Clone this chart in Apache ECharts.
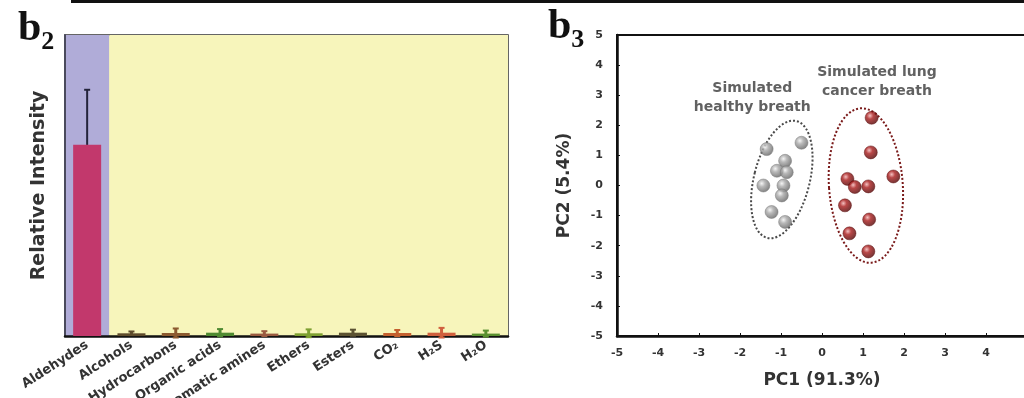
<!DOCTYPE html>
<html>
<head>
<meta charset="utf-8">
<script src="https://cdn.jsdelivr.net/npm/echarts@6/dist/echarts.min.js"></script>
<style>
  html, body { margin: 0; padding: 0; background: #fff; }
  #chart { width: 1024px; height: 398px; }
</style>
</head>
<body>
<div id="chart"></div>
<script>
// b2: relative intensity per compound class
const categories = ['Aldehydes', 'Alcohols', 'Hydrocarbons', 'Organic acids', 'Aromatic amines',
  'Ethers', 'Esters', 'CO\u2082', 'H\u2082S', 'H\u2082O']
const intensity = [63.5, 0.9, 1.0, 1.1, 0.8, 0.9, 1.1, 1.0, 1.1, 0.8]
const intensityErr = [18.3, 0.6, 1.5, 1.2, 0.8, 1.3, 1.0, 1.0, 1.6, 1.0]
const barColors = ['#c2386c', '#5e4b2c', '#8c5a30', '#4f8a32', '#9a5a40',
  '#7ea032', '#5c5232', '#c4602f', '#d0603e', '#5a9030']

// b3: PCA scores
const healthy = [
  [-1.35, 1.21], [-0.50, 1.42], [-0.90, 0.82], [-1.10, 0.49], [-0.86, 0.44],
  [-1.43, 0.00], [-0.94, 0.00], [-0.98, -0.33], [-1.23, -0.88], [-0.90, -1.21]
]
const cancer = [
  [1.21, 2.25], [1.19, 1.10], [0.62, 0.22], [0.80, -0.05], [1.13, -0.03],
  [1.74, 0.30], [0.56, -0.66], [1.15, -1.13], [0.67, -1.59], [1.13, -2.19]
]
// confidence ellipses: [cx, cy, rx, ry, tilt deg]
const healthyEllipse = [-0.98, 0.2, 0.68, 2.0, -14]
const cancerEllipse = [1.07, 0.0, 0.9, 2.57, 4]
const pcTicks = [-5, 5, 1]

const myChart = echarts.init(document.getElementById('chart'))
const font = 'DejaVu Sans'

function ellipseItem(color) {
  return function (params, api) {
    const c = api.coord([api.value(0), api.value(1)])
    const s = api.size([api.value(2), api.value(3)])
    return {
      type: 'ellipse',
      x: c[0],
      y: c[1],
      rotation: api.value(4) * Math.PI / 180,
      shape: { cx: 0, cy: 0, rx: s[0], ry: s[1] },
      style: { fill: 'none', stroke: color, lineWidth: 2, lineDash: [2, 2] }
    }
  }
}

function sphere(light, mid, dark) {
  return {
    type: 'radial', x: 0.38, y: 0.35, r: 0.7,
    colorStops: [{ offset: 0, color: light }, { offset: 0.35, color: mid }, { offset: 1, color: dark }]
  }
}

const panelLabel = {
  b: { fontFamily: 'Liberation Serif', fontWeight: 'bold', fontSize: 42, fill: '#111' },
  s: { fontFamily: 'Liberation Serif', fontWeight: 'bold', fontSize: 26, fill: '#111', padding: [26, 0, 0, 0] }
}

const option = {
  backgroundColor: '#fff',
  animation: false,
  graphic: [
    { type: 'rect', left: 71, top: 0, shape: { width: 960, height: 3 }, style: { fill: '#111' } },
    { type: 'text', left: 18, top: 8, style: { text: '{b|b}{s|2}', rich: panelLabel } },
    { type: 'text', left: 548, top: 6, style: { text: '{b|b}{s|3}', rich: panelLabel } }
  ],
  grid: [
    { left: 65, top: 35, width: 443, height: 301, outerBoundsMode: 'none', show: true, backgroundColor: '#f7f5bb', borderColor: '#333', borderWidth: 1.5 },
    { left: 617, top: 35, width: 410, height: 301, outerBoundsMode: 'none', show: true, backgroundColor: '#fff', borderColor: '#111', borderWidth: 2 }
  ],
  xAxis: [{
    gridIndex: 0,
    type: 'category',
    data: categories,
    axisLine: { lineStyle: { color: '#111', width: 2.5 } },
    axisTick: { show: false },
    splitArea: {
      show: true,
      areaStyle: { color: ['#b0acd8', '#f7f5bb', '#f7f5bb', '#f7f5bb', '#f7f5bb', '#f7f5bb', '#f7f5bb', '#f7f5bb', '#f7f5bb', '#f7f5bb'] }
    },
    axisLabel: { interval: 0, rotate: 33, fontFamily: font, fontWeight: 'bold', fontSize: 13, color: '#333', margin: 8 }
  }, {
    gridIndex: 1,
    type: 'value',
    min: pcTicks[0], max: pcTicks[1], interval: pcTicks[2],
    name: 'PC1 (91.3%)',
    nameLocation: 'middle',
    nameGap: 36,
    nameTextStyle: { fontFamily: font, fontWeight: 'bold', fontSize: 17, color: '#333' },
    axisLine: { onZero: false, lineStyle: { color: '#111', width: 2.5 } },
    axisTick: { inside: true, length: 3, lineStyle: { color: '#111' } },
    splitLine: { show: false },
    axisLabel: { fontFamily: font, fontWeight: 'bold', fontSize: 11, color: '#333', margin: 12 }
  }],
  yAxis: [{
    gridIndex: 0,
    type: 'value',
    min: 0, max: 100,
    name: 'Relative Intensity',
    nameLocation: 'middle',
    nameGap: 16,
    nameTextStyle: { fontFamily: font, fontWeight: 'bold', fontSize: 19, color: '#333' },
    axisLine: { show: true, lineStyle: { color: '#4a4a5c', width: 2 } },
    axisTick: { show: false },
    axisLabel: { show: false },
    splitLine: { show: false }
  }, {
    gridIndex: 1,
    type: 'value',
    min: pcTicks[0], max: pcTicks[1], interval: pcTicks[2],
    name: 'PC2 (5.4%)',
    nameLocation: 'middle',
    nameGap: 44,
    nameTextStyle: { fontFamily: font, fontWeight: 'bold', fontSize: 17, color: '#333' },
    axisLine: { onZero: false, lineStyle: { color: '#111', width: 2.5 } },
    axisTick: { inside: true, length: 3, lineStyle: { color: '#111' } },
    splitLine: { show: false },
    axisLabel: { fontFamily: font, fontWeight: 'bold', fontSize: 11, color: '#333', margin: 14 }
  }],
  series: [{
    name: 'intensity',
    type: 'bar',
    xAxisIndex: 0, yAxisIndex: 0,
    barWidth: 28,
    data: intensity.map((v, i) => ({ value: v, itemStyle: { color: barColors[i] } }))
  }, {
    name: 'error',
    type: 'custom',
    xAxisIndex: 0, yAxisIndex: 0,
    data: intensity.map((v, i) => [i, v - intensityErr[i], v + intensityErr[i]]),
    renderItem: function (params, api) {
      const lo = api.coord([api.value(0), api.value(1)])
      const hi = api.coord([api.value(0), api.value(2)])
      const i = params.dataIndex
      const col = i === 0 ? '#23233a' : barColors[i]
      return {
        type: 'group',
        children: [
          { type: 'line', shape: { x1: lo[0], y1: lo[1], x2: hi[0], y2: hi[1] }, style: { stroke: col, lineWidth: i === 0 ? 2 : 3 } },
          { type: 'line', shape: { x1: hi[0] - 3, y1: hi[1], x2: hi[0] + 3, y2: hi[1] }, style: { stroke: col, lineWidth: 2 } },
          { type: 'line', shape: { x1: lo[0] - 3, y1: lo[1], x2: lo[0] + 3, y2: lo[1] }, style: { stroke: col, lineWidth: 2 } }
        ]
      }
    }
  }, {
    name: 'healthy ellipse',
    type: 'custom',
    xAxisIndex: 1, yAxisIndex: 1,
    data: [healthyEllipse],
    renderItem: ellipseItem('#4a4a4a')
  }, {
    name: 'cancer ellipse',
    type: 'custom',
    xAxisIndex: 1, yAxisIndex: 1,
    data: [cancerEllipse],
    renderItem: ellipseItem('#7a1a1a')
  }, {
    name: 'Simulated healthy breath',
    type: 'scatter',
    xAxisIndex: 1, yAxisIndex: 1,
    symbolSize: 13,
    itemStyle: { color: sphere('#f2f2f2', '#a8a8a8', '#5c5c5c'), borderColor: '#777', borderWidth: 0.6 },
    data: healthy
  }, {
    name: 'Simulated lung cancer breath',
    type: 'scatter',
    xAxisIndex: 1, yAxisIndex: 1,
    symbolSize: 13,
    itemStyle: { color: sphere('#f0b0b0', '#a81a1a', '#4a0000'), borderColor: '#5a0a0a', borderWidth: 0.6 },
    data: cancer
  }, {
    name: 'labels',
    type: 'scatter',
    xAxisIndex: 1, yAxisIndex: 1,
    symbolSize: 0,
    silent: true,
    label: {
      show: true, position: 'inside', align: 'center', verticalAlign: 'middle',
      fontFamily: font, fontWeight: 'bold', fontSize: 14, color: '#3a3a3a', lineHeight: 19,
      formatter: p => p.name
    },
    data: [
      { name: 'Simulated\nhealthy breath', value: [-1.7, 2.9] },
      { name: 'Simulated lung\ncancer breath', value: [1.34, 3.45] }
    ]
  }]
}

option && myChart.setOption(option)
</script>
</body>
</html>
